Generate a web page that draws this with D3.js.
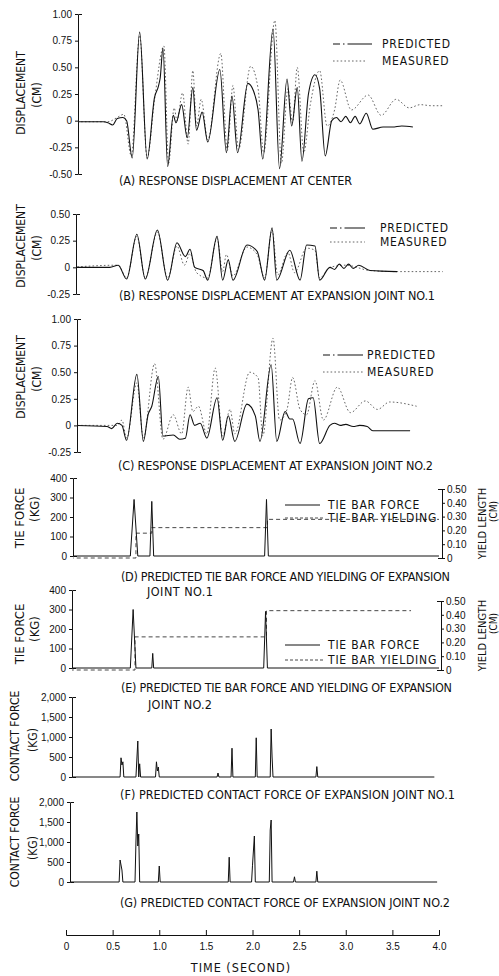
<!DOCTYPE html>
<html>
<head>
<meta charset="utf-8">
<script src="https://cdn.jsdelivr.net/npm/d3@7"></script>
<style>
  body { margin: 0; background: #fff; }
  svg { display: block; font-family: "DejaVu Sans", sans-serif; font-stretch: condensed; }
  .axis path, .axis line { stroke: #111; stroke-width: 1; }
  .axis text { fill: #111; font-size: 10px; }
</style>
</head>
<body>
<div id="chart"></div>
<script>
// ---- data (time in seconds) ----
const timeTicks = [0, 0.5, 1.0, 1.5, 2.0, 2.5, 3.0, 3.5, 4.0];

const dispTicksA = [-0.5, -0.25, 0, 0.25, 0.5, 0.75, 1.0];
const dispTicksB = [-0.25, 0, 0.25, 0.5];
const dispTicksC = [-0.25, 0, 0.25, 0.5, 0.75, 1.0];
const tieForceTicks = [0, 100, 200, 300, 400];
const yieldTicks = [0, 0.1, 0.2, 0.3, 0.4, 0.5];
const contactTicks = [0, 500, 1000, 1500, 2000];

const centerPredicted = [[0.04,-0.01],[0.40,-0.01],[0.45,-0.02],[0.50,-0.04],[0.55,0.02],[0.61,0.03],[0.65,0.0],[0.71,-0.35],[0.79,0.83],[0.87,-0.36],[0.95,0.22],[0.99,0.32],[1.01,0.40],[1.04,0.68],[1.09,-0.43],[1.15,0.05],[1.18,-0.02],[1.24,0.15],[1.30,-0.16],[1.36,0.31],[1.40,-0.09],[1.46,0.08],[1.52,-0.20],[1.65,0.48],[1.72,-0.30],[1.78,0.23],[1.84,-0.30],[1.95,0.35],[2.01,0.28],[2.06,0.10],[2.11,-0.36],[2.22,0.86],[2.29,-0.45],[2.37,0.39],[2.42,-0.05],[2.48,0.31],[2.53,-0.38],[2.60,0.25],[2.67,0.43],[2.72,0.30],[2.78,-0.33],[2.85,0.0],[2.90,0.03],[2.95,-0.01],[3.00,0.04],[3.05,-0.02],[3.10,0.04],[3.15,-0.03],[3.22,0.07],[3.29,-0.08],[3.40,-0.06],[3.50,-0.06],[3.60,-0.05],[3.72,-0.06]];
const centerMeasured = [[0.04,-0.01],[0.45,-0.01],[0.55,0.03],[0.62,0.06],[0.70,-0.33],[0.79,0.80],[0.87,-0.35],[0.95,0.20],[1.05,0.70],[1.10,-0.40],[1.16,0.12],[1.19,0.0],[1.25,0.26],[1.31,-0.22],[1.36,0.47],[1.40,-0.05],[1.45,0.20],[1.52,-0.18],[1.66,0.63],[1.73,-0.28],[1.79,0.33],[1.85,-0.27],[1.98,0.51],[2.06,0.30],[2.12,-0.30],[2.24,0.94],[2.31,-0.40],[2.38,0.30],[2.43,-0.02],[2.48,0.50],[2.55,-0.30],[2.62,0.15],[2.72,0.47],[2.80,-0.05],[2.88,0.10],[2.94,0.38],[3.06,0.10],[3.24,0.24],[3.38,0.05],[3.54,0.20],[3.68,0.12],[3.80,0.15],[3.92,0.14],[4.04,0.14]];

const joint1Predicted = [[0.04,0],[0.47,0],[0.56,0.02],[0.65,-0.11],[0.76,0.31],[0.85,-0.11],[0.98,0.35],[1.09,-0.12],[1.19,0.23],[1.28,0.10],[1.33,0.17],[1.38,0.0],[1.47,-0.03],[1.52,-0.12],[1.62,0.29],[1.68,-0.12],[1.74,0.07],[1.79,-0.12],[1.94,0.21],[2.05,0.15],[2.13,-0.12],[2.21,0.37],[2.26,-0.12],[2.40,0.16],[2.51,-0.12],[2.58,0.21],[2.67,0.20],[2.72,-0.12],[2.83,0.0],[2.88,-0.02],[2.93,0.03],[2.98,-0.01],[3.03,0.03],[3.08,-0.01],[3.14,0.02],[3.26,-0.03],[3.55,-0.04]];
const joint1Measured = [[0.04,0],[0.56,0.02],[0.65,-0.10],[0.76,0.29],[0.85,-0.10],[0.98,0.33],[1.09,-0.10],[1.19,0.20],[1.27,0.02],[1.33,0.13],[1.40,-0.05],[1.52,-0.10],[1.62,0.27],[1.68,-0.04],[1.72,0.12],[1.79,-0.08],[1.94,0.19],[2.05,0.12],[2.13,-0.10],[2.21,0.35],[2.27,-0.07],[2.38,0.14],[2.45,-0.05],[2.58,0.18],[2.67,0.16],[2.72,-0.10],[2.83,0.0],[3.00,0.02],[3.26,-0.03],[3.55,-0.04],[4.04,-0.04]];

const joint2Predicted = [[0.04,0],[0.44,-0.01],[0.49,-0.03],[0.55,0.02],[0.60,0.0],[0.65,-0.14],[0.76,0.48],[0.83,-0.15],[0.88,0.10],[0.92,0.18],[0.99,0.46],[1.04,-0.10],[1.15,-0.09],[1.22,-0.13],[1.28,-0.12],[1.33,0.10],[1.38,0.0],[1.44,0.02],[1.51,-0.12],[1.62,0.26],[1.68,-0.14],[1.74,0.09],[1.81,-0.15],[1.94,0.20],[2.03,0.09],[2.08,-0.15],[2.20,0.57],[2.26,-0.15],[2.35,0.13],[2.40,0.06],[2.43,0.06],[2.51,-0.17],[2.60,0.25],[2.65,0.26],[2.72,-0.17],[2.83,0.0],[2.88,0.02],[2.94,0.0],[3.00,0.01],[3.08,-0.01],[3.15,0.0],[3.23,-0.01],[3.29,-0.05],[3.69,-0.05]];
const joint2Measured = [[0.04,0],[0.55,0.0],[0.60,0.05],[0.65,-0.12],[0.76,0.40],[0.83,-0.12],[0.95,0.58],[1.04,-0.13],[1.15,0.10],[1.24,-0.08],[1.31,0.36],[1.36,0.13],[1.42,0.18],[1.51,-0.08],[1.60,0.54],[1.68,-0.10],[1.76,0.15],[1.81,-0.08],[1.97,0.50],[2.06,0.45],[2.11,-0.10],[2.22,0.82],[2.29,0.05],[2.37,0.15],[2.43,0.45],[2.51,0.15],[2.58,0.10],[2.67,0.42],[2.76,0.05],[2.91,0.36],[3.05,0.12],[3.21,0.23],[3.34,0.15],[3.47,0.22],[3.76,0.18]];

const tieForce1 = [[0.04,0],[0.69,0],[0.73,290],[0.77,0],[0.90,0],[0.92,280],[0.94,0],[2.13,0],[2.15,290],[2.17,0],[4.0,0]];
const tieYield1 = [[0.04,0],[0.75,0.18],[0.92,0.22],[2.16,0.28],[4.0,0.28]];
const tieForce2 = [[0.04,0],[0.69,0],[0.72,300],[0.75,0],[0.92,0],[0.93,75],[0.94,0],[2.12,0],[2.14,290],[2.16,0],[4.0,0]];
const tieYield2 = [[0.04,0],[0.74,0.24],[2.15,0.43],[3.70,0.43]];

const contact1 = [[0.04,0],[0.58,0],[0.59,480],[0.60,300],[0.61,380],[0.62,0],[0.75,0],[0.77,900],[0.78,0],[0.79,330],[0.80,0],[0.96,0],[0.97,380],[0.98,150],[0.99,250],[1.00,0],[1.62,0],[1.63,100],[1.64,0],[1.77,0],[1.78,720],[1.79,0],[2.03,0],[2.04,980],[2.05,0],[2.19,0],[2.20,1200],[2.21,500],[2.22,0],[2.68,0],[2.69,260],[2.70,0],[3.95,0]];
const contact2 = [[0.04,0],[0.57,0],[0.58,550],[0.60,300],[0.61,0],[0.74,0],[0.75,1000],[0.76,1750],[0.77,900],[0.78,1200],[0.79,0],[0.99,0],[1.00,400],[1.01,0],[1.74,0],[1.75,620],[1.76,0],[1.99,0],[2.00,420],[2.02,1150],[2.03,0],[2.18,0],[2.19,1300],[2.20,1550],[2.21,0],[2.44,0],[2.45,130],[2.46,0],[2.68,0],[2.69,270],[2.70,0],[3.98,0]];

// ---- drawing ----
const W = 499, H = 976;
const svg = d3.select('#chart').append('svg')
  .attr('width', W).attr('height', H)
  .attr('viewBox', [0, 0, W, H]);

const x = d3.scaleLinear().domain([0, 4]).range([66, 439]);

const styles = {
  predicted: { stroke: '#111', width: 1.1, dash: null, curve: d3.curveMonotoneX },
  measured: { stroke: '#555', width: 0.9, dash: '1.6,2.2', curve: d3.curveMonotoneX },
  force: { stroke: '#111', width: 1, dash: null, curve: d3.curveLinear },
  yielding: { stroke: '#333', width: 0.9, dash: '4,3', curve: d3.curveStepAfter },
  contact: { stroke: '#111', width: 1, dash: null, curve: d3.curveLinear }
};
const legendDash = { predicted: '7,3,1.5,3,40', measured: '1.6,2.2', force: null, yielding: '3,2' };

const fmtDisp = d => d === 0 ? '0' : d3.format('.2f')(d).replace('\u2212', '-');
const fmtInt = d3.format(',');
const fmtYield = d => d === 0 ? '0' : d3.format('.2f')(d);

function drawPanel(cfg) {
  const g = svg.append('g').attr('class', 'panel');
  const y = d3.scaleLinear().domain(cfg.domain).range(cfg.range);
  const y2 = cfg.right ? d3.scaleLinear().domain(cfg.right.domain).range(cfg.right.range) : null;

  const clipId = 'clip-' + cfg.id;
  svg.append('clipPath').attr('id', clipId)
    .append('rect')
    .attr('x', cfg.axisX).attr('y', cfg.range[1] - 14)
    .attr('width', 446 - cfg.axisX).attr('height', cfg.range[0] - cfg.range[1] + 28);

  // left axis
  g.append('g').attr('class', 'axis')
    .attr('transform', `translate(${cfg.axisX},0)`)
    .call(d3.axisLeft(y).tickValues(cfg.ticks).tickFormat(cfg.format)
      .tickSizeInner(3).tickSizeOuter(-4).tickPadding(3));

  // right axis (yield length)
  if (cfg.right) {
    g.append('g').attr('class', 'axis')
      .attr('transform', `translate(${cfg.right.x},0)`)
      .call(d3.axisRight(y2).tickValues(yieldTicks).tickFormat(fmtYield)
        .tickSizeInner(3).tickSizeOuter(-4).tickPadding(2));
    const c = (cfg.right.range[0] + cfg.right.range[1]) / 2;
    g.append('text').attr('transform', `translate(482,${c}) rotate(-90)`)
      .attr('text-anchor', 'middle').attr('dy', '0.35em')
      .attr('font-size', 11).attr('fill', '#111').text('YIELD LENGTH');
    g.append('text').attr('transform', `translate(493,${c - 12}) rotate(-90)`)
      .attr('text-anchor', 'middle').attr('dy', '0.35em')
      .attr('font-size', 10).attr('fill', '#111').text('(CM)');
  }

  // y label
  cfg.ylabel.forEach((t, i) => {
    g.append('text')
      .attr('transform', `translate(${cfg.ylabelX[i]},${cfg.ylabelY[i]}) rotate(-90)`)
      .attr('text-anchor', 'middle').attr('dy', '0.35em')
      .attr('font-size', cfg.ylabelSize || 12).attr('fill', '#111')
      .text(t);
  });

  // series
  cfg.series.forEach(s => {
    const st = styles[s.style];
    const ys = s.axis === 'right' ? y2 : y;
    g.append('path')
      .datum(s.data)
      .attr('clip-path', `url(#${clipId})`)
      .attr('fill', 'none')
      .attr('stroke', st.stroke)
      .attr('stroke-width', st.width)
      .attr('stroke-dasharray', st.dash)
      .attr('stroke-linejoin', 'round')
      .attr('d', d3.line().x(d => x(d[0])).y(d => ys(d[1])).curve(st.curve));
  });

  // legend
  if (cfg.legend) {
    cfg.legend.rows.forEach(r => {
      g.append('line')
        .attr('x1', cfg.legend.x0).attr('x2', r.x1 || cfg.legend.x1)
        .attr('y1', r.y).attr('y2', r.y)
        .attr('stroke', styles[r.style].stroke)
        .attr('stroke-width', styles[r.style].width)
        .attr('stroke-dasharray', legendDash[r.style]);
      g.append('text')
        .attr('x', cfg.legend.tx).attr('y', r.y + 4)
        .attr('font-size', 12).attr('letter-spacing', 0.8).attr('fill', '#111')
        .text(r.label);
    });
  }

  // caption
  cfg.title.forEach((t, i) => {
    g.append('text')
      .attr('x', cfg.titleX[i]).attr('y', cfg.titleY[i])
      .attr('font-size', 12.5).attr('fill', '#111')
      .attr('textLength', cfg.titleW[i]).attr('lengthAdjust', 'spacing')
      .text(t);
  });
}

drawPanel({
  id: 'a', axisX: 78, domain: [-0.5, 1.0], range: [174, 14],
  ticks: dispTicksA, format: fmtDisp,
  ylabel: ['DISPLACEMENT', '(CM)'], ylabelX: [21, 37], ylabelY: [93, 95],
  series: [
    { data: centerMeasured, style: 'measured' },
    { data: centerPredicted, style: 'predicted' }
  ],
  legend: { x0: 333, x1: 372, tx: 382, rows: [
    { y: 44, label: 'PREDICTED', style: 'predicted' },
    { y: 61, label: 'MEASURED', style: 'measured', x1: 367 }
  ] },
  title: ['(A)  RESPONSE  DISPLACEMENT AT CENTER'], titleX: [119], titleY: [185], titleW: [233]
});

drawPanel({
  id: 'b', axisX: 76, domain: [-0.25, 0.5], range: [294, 214],
  ticks: dispTicksB, format: fmtDisp,
  ylabel: ['DISPLACEMENT', '(CM)'], ylabelX: [21, 37], ylabelY: [246, 248],
  series: [
    { data: joint1Measured, style: 'measured' },
    { data: joint1Predicted, style: 'predicted' }
  ],
  legend: { x0: 330, x1: 365, tx: 380, rows: [
    { y: 228, label: 'PREDICTED', style: 'predicted' },
    { y: 242, label: 'MEASURED', style: 'measured' }
  ] },
  title: ['(B)  RESPONSE  DISPLACEMENT  AT  EXPANSION  JOINT  NO.1'], titleX: [119], titleY: [300], titleW: [316]
});

drawPanel({
  id: 'c', axisX: 77, domain: [-0.25, 1.0], range: [452, 319],
  ticks: dispTicksC, format: fmtDisp,
  ylabel: ['DISPLACEMENT', '(CM)'], ylabelX: [21, 37], ylabelY: [377, 379],
  series: [
    { data: joint2Measured, style: 'measured' },
    { data: joint2Predicted, style: 'predicted' }
  ],
  legend: { x0: 323, x1: 363, tx: 367, rows: [
    { y: 355, label: 'PREDICTED', style: 'predicted' },
    { y: 372, label: 'MEASURED', style: 'measured' }
  ] },
  title: ['(C)  RESPONSE  DISPLACEMENT  AT  EXPANSION  JOINT  NO.2'], titleX: [118], titleY: [470], titleW: [315]
});

drawPanel({
  id: 'd', axisX: 73, domain: [0, 400], range: [556, 478],
  ticks: tieForceTicks, format: fmtInt,
  right: { x: 442, domain: [0, 0.5], range: [558, 489] },
  ylabel: ['TIE FORCE', '(KG)'], ylabelX: [19, 34], ylabelY: [518, 509], ylabelSize: 13,
  series: [
    { data: tieYield1, style: 'yielding', axis: 'right' },
    { data: tieForce1, style: 'force' }
  ],
  legend: { x0: 285, x1: 320, tx: 328, rows: [
    { y: 505, label: 'TIE BAR FORCE', style: 'force' },
    { y: 518, label: 'TIE BAR YIELDING', style: 'yielding', x1: 325 }
  ] },
  title: ['(D)  PREDICTED TIE BAR FORCE AND YIELDING OF EXPANSION', 'JOINT  NO.1'],
  titleX: [121, 147], titleY: [581, 596], titleW: [329, 66]
});

drawPanel({
  id: 'e', axisX: 72, domain: [0, 400], range: [668, 590],
  ticks: tieForceTicks, format: fmtInt,
  right: { x: 441, domain: [0, 0.5], range: [670, 601] },
  ylabel: ['TIE FORCE', '(KG)'], ylabelX: [19, 34], ylabelY: [634, 629], ylabelSize: 13,
  series: [
    { data: tieYield2, style: 'yielding', axis: 'right' },
    { data: tieForce2, style: 'force' }
  ],
  legend: { x0: 285, x1: 320, tx: 328, rows: [
    { y: 645, label: 'TIE BAR FORCE', style: 'force' },
    { y: 660, label: 'TIE BAR YIELDING', style: 'yielding', x1: 325 }
  ] },
  title: ['(E)  PREDICTED TIE BAR FORCE AND YIELDING OF EXPANSION', 'JOINT  NO.2'],
  titleX: [121, 148], titleY: [692, 709], titleW: [331, 64]
});

drawPanel({
  id: 'f', axisX: 72, domain: [0, 2000], range: [777, 697],
  ticks: contactTicks, format: fmtInt,
  ylabel: ['CONTACT FORCE', '(KG)'], ylabelX: [15, 33], ylabelY: [736, 740],
  series: [{ data: contact1, style: 'contact' }],
  title: ['(F)  PREDICTED  CONTACT  FORCE  OF  EXPANSION  JOINT  NO.1'], titleX: [120], titleY: [799], titleW: [335]
});

drawPanel({
  id: 'g', axisX: 70, domain: [0, 2000], range: [882, 802],
  ticks: contactTicks, format: fmtInt,
  ylabel: ['CONTACT FORCE', '(KG)'], ylabelX: [15, 33], ylabelY: [842, 848],
  series: [{ data: contact2, style: 'contact' }],
  title: ['(G)  PREDICTED  CONTACT  FORCE  OF  EXPANSION  JOINT  NO.2'], titleX: [120], titleY: [907], titleW: [330]
});

// time axis
const timeAxis = svg.append('g').attr('class', 'axis time-axis')
  .attr('transform', 'translate(0,935)')
  .call(d3.axisBottom(x).tickValues(timeTicks)
    .tickFormat(d => d === 0 ? '0' : d3.format('.1f')(d))
    .tickSizeInner(-5).tickSizeOuter(-5).tickPadding(8));
timeAxis.selectAll('text').attr('font-size', 11);

svg.append('text')
  .attr('x', 241).attr('y', 972)
  .attr('text-anchor', 'middle')
  .attr('font-size', 12.5).attr('letter-spacing', 1).attr('fill', '#111')
  .text('TIME  (SECOND)');
</script>
</body>
</html>
